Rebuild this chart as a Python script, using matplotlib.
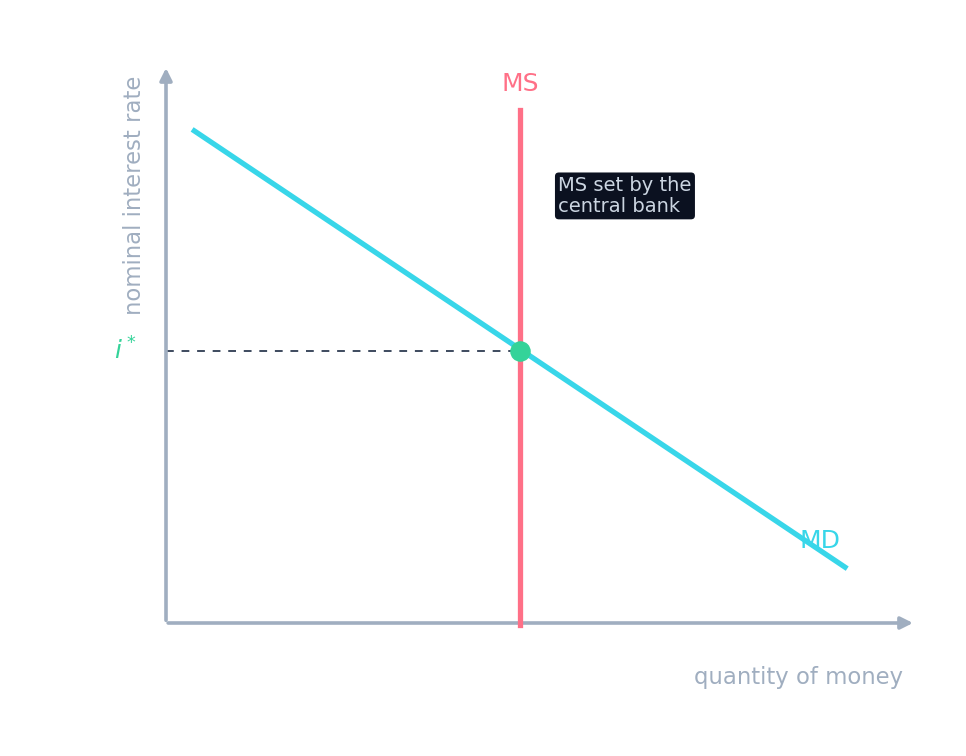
import matplotlib
matplotlib.use("Agg")
import matplotlib.pyplot as plt

# money market: vertical money supply, downward sloping money demand
ms_q = 5.0
ms_top = 9.46
md_q = [0.4, 9.59]
md_rate = [9.08, 1.03]
eq_q = 5.0
eq_rate = 5.02

AXIS_C = "#a0aec0"
MS_C = "#ff7087"
MD_C = "#38d6e9"
EQ_C = "#34d399"

fig = plt.figure(figsize=(9.66, 7.56), dpi=100)
ax = fig.add_axes([166 / 966, 133 / 756, 747 / 966, 555 / 756])
ax.set_xlim(0, 10.55)
ax.set_ylim(0, 10.24)
ax.axis("off")

# axes arrows
arrow = dict(arrowstyle="-|>", lw=2.6, color=AXIS_C, mutation_scale=18,
             shrinkA=0, shrinkB=0, capstyle="round")
ax.annotate("", xy=(10.55, 0), xytext=(0.03, 0), arrowprops=arrow,
            annotation_clip=False)
ax.annotate("", xy=(0, 10.24), xytext=(0, 0.05), arrowprops=arrow,
            annotation_clip=False)

# curves
ax.plot([ms_q, ms_q], [-0.03, ms_top], color=MS_C, lw=3.8, clip_on=False,
        zorder=3)
ax.plot(md_q, md_rate, color=MD_C, lw=3.8, clip_on=False, zorder=3)
ax.plot([0, eq_q], [eq_rate, eq_rate], color="#3d4a5e", lw=1.4,
        dashes=(4, 4), zorder=2)
ax.scatter([eq_q], [eq_rate], s=190, color=EQ_C, zorder=5, clip_on=False)

# labels
ax.text(ms_q, 9.94, "MS", color=MS_C, fontsize=18, ha="center",
        va="center")
ax.text(9.24, 1.51, "MD", color=MD_C, fontsize=18, ha="center",
        va="center")
ax.text(-0.58, eq_rate, "$i^*$", color=EQ_C, fontsize=18, ha="center",
        va="center")
ax.text(-0.45, 7.9, "nominal interest rate", color=AXIS_C, fontsize=16.4,
        rotation=90, ha="center", va="center")
ax.text(10.41, -1.01, "quantity of money", color=AXIS_C, fontsize=16.4,
        ha="right", va="center")
ax.text(5.54, 7.88, "MS set by the\ncentral bank", color="#cbd5e1",
        fontsize=14, ha="left", va="center", linespacing=1.15,
        bbox=dict(boxstyle="round,pad=0.17,rounding_size=0.2",
                  fc="#0b1120", ec="none"))

fig.savefig("out.png", dpi=100)
